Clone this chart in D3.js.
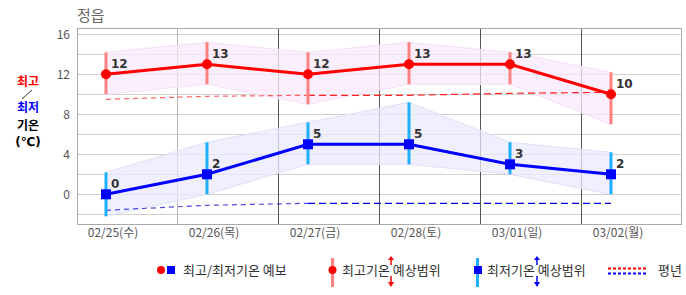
<!DOCTYPE html>
<html>
<head>
<meta charset="utf-8">
<script src="https://cdn.jsdelivr.net/npm/d3@7"></script>
<style>
  body { margin: 0; background: #fff; }
  svg { display: block; font-family: "Noto Sans CJK KR", "DejaVu Sans", sans-serif; }
</style>
</head>
<body>
<svg id="chart" width="686" height="295"></svg>
<script>
// data
const dates = ["02/25(수)", "02/26(목)", "02/27(금)", "02/28(토)", "03/01(일)", "03/02(월)"];
const maxTemp = [12, 13, 12, 13, 13, 10];
const maxHi = [14.2, 15.2, 14.2, 15.2, 14.2, 12.2];
const maxLo = [10, 11, 9, 11, 11, 7];
const minTemp = [0, 2, 5, 5, 3, 2];
const minHi = [2.2, 5.2, 7.2, 9.2, 5.2, 4.2];
const minLo = [-2.2, 0, 3, 3, 2, 0];
const normMax = [9.5, 9.8, 9.9, 9.9, 10.1, 10.2];
const normMin = [-1.6, -1.1, -0.9, -0.9, -0.9, -0.9];
const yTicks = [0, 4, 8, 12, 16];

const svg = d3.select("#chart");
const pLeft = 77, pRight = 682, pTop = 28, pBottom = 224;

const x = d3.scaleLinear().domain([-0.287, 5.703]).range([pLeft, pRight]);
const y = d3.scaleLinear().domain([-2.97, 16.63]).range([pBottom, pTop]);
const idx = d3.range(dates.length);

// horizontal grid
svg.append("g").selectAll("line")
    .data(d3.range(-2, 17, 2))
    .enter().append("line")
    .attr("x1", pLeft).attr("x2", pRight)
    .attr("y1", d => Math.round(y(d)) + 0.5)
    .attr("y2", d => Math.round(y(d)) + 0.5)
    .style("stroke", "#d0d0d0");

// vertical separators (first one light, rest dark)
svg.append("g").selectAll("line")
    .data(d3.range(0, 5))
    .enter().append("line")
    .attr("x1", d => Math.round(x(d + 0.703)) + 0.5)
    .attr("x2", d => Math.round(x(d + 0.703)) + 0.5)
    .attr("y1", pTop).attr("y2", pBottom)
    .style("stroke", d => d == 0 ? "#b4b4b4" : "#555");

// frame
svg.append("rect")
    .attr("x", pLeft + 0.5).attr("y", pTop + 0.5)
    .attr("width", pRight - pLeft - 1).attr("height", pBottom - pTop)
    .style("fill", "none").style("stroke", "#aaa");

// y tick labels
svg.append("g").selectAll("text")
    .data(yTicks)
    .enter().append("text")
    .attr("x", 70).attr("y", d => y(d))
    .attr("dy", "0.36em")
    .attr("text-anchor", "end")
    .style("font-size", "12px").style("fill", "#555")
    .text(d => d);

// x tick labels
svg.append("g").selectAll("text")
    .data(idx)
    .enter().append("text")
    .attr("x", d => x(d) + 7).attr("y", 237)
    .attr("text-anchor", "middle")
    .style("font-size", "12px").style("fill", "#555")
    .text(d => dates[d]);

// bands
const band = (hi, lo) => d3.area().x(d => x(d)).y0(d => y(lo[d])).y1(d => y(hi[d]))(idx);
svg.append("path").attr("d", band(maxHi, maxLo))
    .style("fill", "#fbeafc").style("fill-opacity", 0.75)
    .style("stroke", "#f6e0f8").style("stroke-width", 1);
svg.append("path").attr("d", band(minHi, minLo))
    .style("fill", "#eaeafc").style("fill-opacity", 0.75)
    .style("stroke", "#e0e0f8").style("stroke-width", 1);

// normals
const line = vals => d3.line().x(d => x(d)).y(d => y(vals[d]));
const normals = [[normMax, "#ff2020"], [normMin, "#0000e0"]];
normals.forEach(function(n){
    svg.append("path").attr("d", line(n[0])([0, 1, 2]))
        .style("fill", "none").style("stroke", n[1]).style("stroke-opacity", 0.7)
        .style("stroke-dasharray", "5,4").style("stroke-width", 1.2);
    svg.append("path").attr("d", line(n[0])([2, 3, 4, 5]))
        .style("fill", "none").style("stroke", n[1])
        .style("stroke-dasharray", "7,4").style("stroke-width", 1.2);
});

// range bars
svg.append("g").selectAll("line")
    .data(idx).enter().append("line")
    .attr("x1", d => x(d)).attr("x2", d => x(d))
    .attr("y1", d => y(maxHi[d])).attr("y2", d => y(maxLo[d]))
    .style("stroke", "#ff8080").style("stroke-width", 3);
svg.append("g").selectAll("line")
    .data(idx).enter().append("line")
    .attr("x1", d => x(d)).attr("x2", d => x(d))
    .attr("y1", d => y(minHi[d])).attr("y2", d => y(minLo[d]))
    .style("stroke", "#1eb0ff").style("stroke-width", 3);

// forecast lines
svg.append("path").attr("d", line(maxTemp)(idx))
    .style("fill", "none").style("stroke", "#ff0000").style("stroke-width", 3);
svg.append("path").attr("d", line(minTemp)(idx))
    .style("fill", "none").style("stroke", "#0000ff").style("stroke-width", 3);

svg.append("g").selectAll("circle")
    .data(idx).enter().append("circle")
    .attr("cx", d => x(d)).attr("cy", d => y(maxTemp[d])).attr("r", 5)
    .style("fill", "#ff0000");
svg.append("g").selectAll("rect")
    .data(idx).enter().append("rect")
    .attr("x", d => x(d) - 5).attr("y", d => y(minTemp[d]) - 5)
    .attr("width", 10).attr("height", 10)
    .style("fill", "#0000ff");

// value labels
const labels = [[maxTemp], [minTemp]];
labels.forEach(function(l){
    svg.append("g").selectAll("text")
        .data(idx).enter().append("text")
        .attr("x", d => x(d) + 5).attr("y", d => y(l[0][d]) - 6)
        .style("font-size", "12px").style("font-weight", "bold").style("fill", "#333")
        .style("font-family", "'DejaVu Sans', sans-serif")
        .text(d => l[0][d]);
});

// title
svg.append("text").attr("x", 77).attr("y", 21)
    .style("font-size", "15px").style("fill", "#666").text("정읍");

// y axis title
const yt = svg.append("g").style("font-size", "12px").style("font-weight", "bold")
    .attr("text-anchor", "middle");
yt.append("text").attr("x", 28).attr("y", 86).style("fill", "#ff0000").text("최고");
yt.append("line").attr("x1", 22).attr("y1", 99).attr("x2", 32).attr("y2", 90)
    .style("stroke", "#000").style("stroke-width", 0.8);
yt.append("text").attr("x", 28).attr("y", 112).style("fill", "#0000ff").text("최저");
yt.append("text").attr("x", 28).attr("y", 130).style("fill", "#000").text("기온");
yt.append("text").attr("x", 28).attr("y", 146).style("fill", "#000")
    .style("font-family", "'DejaVu Sans', sans-serif").text("(℃)");

// legend
const lg = svg.append("g").style("font-size", "13px").style("fill", "#333");
const ly = 270;
lg.append("circle").attr("cx", 161).attr("cy", ly).attr("r", 4).style("fill", "#ff0000");
lg.append("rect").attr("x", 167).attr("y", ly - 4).attr("width", 8).attr("height", 8).style("fill", "#0000ff");
lg.append("text").attr("x", 183).attr("y", ly).attr("dy", "0.36em").text("최고/최저기온 예보");

lg.append("line").attr("x1", 332.5).attr("x2", 332.5).attr("y1", 258).attr("y2", 287)
    .style("stroke", "#ff8080").style("stroke-width", 3);
lg.append("circle").attr("cx", 332.5).attr("cy", ly).attr("r", 4).style("fill", "#ff0000");
lg.append("text").attr("x", 342).attr("y", ly).attr("dy", "0.36em").text("최고기온 예상범위");

lg.append("line").attr("x1", 477.5).attr("x2", 477.5).attr("y1", 258).attr("y2", 287)
    .style("stroke", "#1eb0ff").style("stroke-width", 3);
lg.append("rect").attr("x", 474).attr("y", ly - 4).attr("width", 8).attr("height", 8).style("fill", "#0000ff");
lg.append("text").attr("x", 487).attr("y", ly).attr("dy", "0.36em").text("최저기온 예상범위");

// arrows
function arrow(cx, color){
    const g = lg.append("g").style("stroke", color).style("fill", color);
    g.append("line").attr("x1", cx).attr("x2", cx).attr("y1", 259).attr("y2", 265).style("stroke-width", 1.5);
    g.append("path").attr("d", `M${cx - 3},${260}L${cx},${256}L${cx + 3},${260}Z`).style("stroke", "none");
    g.append("line").attr("x1", cx).attr("x2", cx).attr("y1", 276).attr("y2", 283).style("stroke-width", 1.5);
    g.append("path").attr("d", `M${cx - 3},${282}L${cx},${287}L${cx + 3},${282}Z`).style("stroke", "none");
}
arrow(391, "#ff0000");
arrow(537, "#0000ff");

lg.append("line").attr("x1", 608).attr("x2", 648).attr("y1", 268.5).attr("y2", 268.5)
    .style("stroke", "#ff0000").style("stroke-width", 2).style("stroke-dasharray", "3,2");
lg.append("line").attr("x1", 608).attr("x2", 648).attr("y1", 273.5).attr("y2", 273.5)
    .style("stroke", "#0000ff").style("stroke-width", 2).style("stroke-dasharray", "3,2");
lg.append("text").attr("x", 658).attr("y", ly).attr("dy", "0.36em").text("평년");
</script>
</body>
</html>
